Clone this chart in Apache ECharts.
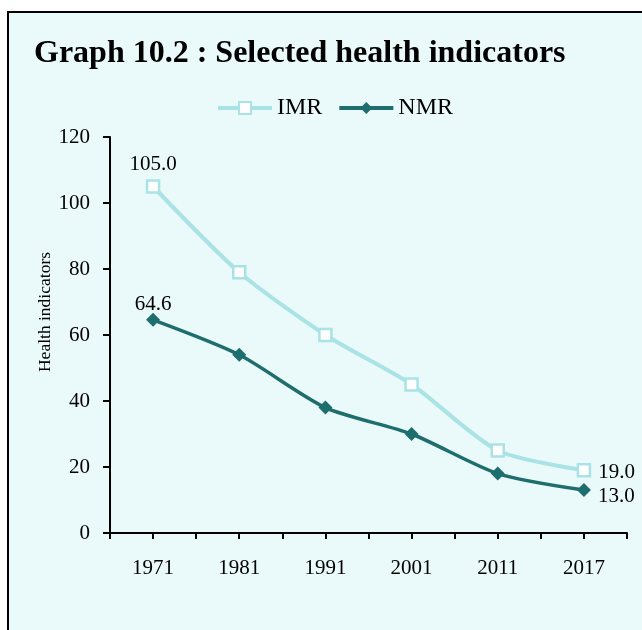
<!DOCTYPE html>
<html>
<head>
<meta charset="utf-8">
<script src="https://cdn.jsdelivr.net/npm/echarts@6/dist/echarts.min.js"></script>
<style>
  html, body { margin: 0; padding: 0; background: #ffffff; }
  #chart { width: 642px; height: 630px; }
</style>
</head>
<body>
<div id="chart"></div>
<script>
// Census years on the horizontal axis
const years = ['1971', '1981', '1991', '2001', '2011', '2017'];
// Infant mortality rate
const imrValues = [105.0, 79, 60, 45, 25, 19.0];
// Neonatal mortality rate
const nmrValues = [64.6, 54, 38, 30, 18, 13.0];
// Vertical axis ticks
const yTicks = [0, 20, 40, 60, 80, 100, 120];
// Half-category tick positions along the horizontal axis
const halfSteps = ['', '', '', '', '', '', '', '', '', '', '', ''];

const serif = '"Liberation Serif", "Times New Roman", serif';
const imrColor = '#a9e3e5';
const nmrColor = '#1e6e6d';

// show a label only on the first and last point of a series
function endLabels(values, firstDistance, lastOffset) {
  return values.map((v, i) => {
    const item = { value: v };
    const first = i === 0;
    if (first || i === values.length - 1) {
      item.label = {
        show: true,
        position: first ? 'top' : 'right',
        formatter: p => p.value.toFixed(1),
        color: '#000', fontFamily: serif, fontSize: 21,
        distance: first ? firstDistance : 7,
        offset: first ? [0, 0] : [0, lastOffset]
      };
    }
    return item;
  });
}

const chart = echarts.init(document.getElementById('chart'));
chart.setOption({
  animation: false,
  backgroundColor: '#ffffff',
  graphic: [{
    type: 'rect', z: -10, silent: true,
    shape: { x: 8, y: 12, width: 700, height: 700 },
    style: { fill: '#eaf9fa', stroke: '#000', lineWidth: 2 }
  }, {
    type: 'text', silent: true,
    x: 45, y: 312, rotation: Math.PI / 2,
    style: {
      text: 'Health indicators',
      fill: '#000',
      font: '17.5px ' + serif,
      textAlign: 'center', textVerticalAlign: 'middle'
    }
  }],
  title: {
    text: 'Graph 10.2 : Selected health indicators',
    left: 29, top: 33,
    textStyle: { fontFamily: serif, fontWeight: 'bold', fontSize: 32, color: '#000' }
  },
  legend: {
    left: 211, top: 91,
    itemWidth: 54, itemHeight: 15, itemGap: 15,
    lineStyle: { width: 4 },
    textStyle: { fontFamily: serif, fontSize: 24, color: '#000' },
    data: ['IMR', 'NMR']
  },
  grid: { left: 110, right: 15, top: 137, bottom: 97 },
  xAxis: [{
    type: 'category',
    data: years,
    boundaryGap: true,
    axisLine: { lineStyle: { color: '#000', width: 2 } },
    axisTick: { show: false },
    axisLabel: { color: '#000', fontFamily: serif, fontSize: 21, margin: 25 }
  }, {
    type: 'category',
    data: halfSteps,
    position: 'bottom',
    boundaryGap: true,
    axisLine: { show: false },
    axisTick: { show: true, length: 6, lineStyle: { color: '#000', width: 2 } },
    axisLabel: { show: false }
  }],
  yAxis: {
    type: 'value',
    min: yTicks[0], max: yTicks[yTicks.length - 1], interval: yTicks[1] - yTicks[0],
    axisLine: { show: true, lineStyle: { color: '#000', width: 2 } },
    axisTick: { show: true, length: 7, lineStyle: { color: '#000', width: 2 } },
    axisLabel: { color: '#000', fontFamily: serif, fontSize: 21, margin: 20 },
    splitLine: { show: false }
  },
  series: [{
    name: 'IMR',
    type: 'line',
    smooth: 0.25,
    data: endLabels(imrValues, 4, 2),
    symbol: 'rect', symbolSize: 12,
    lineStyle: { color: imrColor, width: 4 },
    itemStyle: { color: '#ffffff', borderColor: imrColor, borderWidth: 2.5 },
    z: 2
  }, {
    name: 'NMR',
    type: 'line',
    smooth: 0.25,
    data: endLabels(nmrValues, -2, 6),
    symbol: 'diamond', symbolSize: 14,
    lineStyle: { color: nmrColor, width: 3.5 },
    itemStyle: { color: nmrColor },
    z: 3
  }]
});
</script>
</body>
</html>
